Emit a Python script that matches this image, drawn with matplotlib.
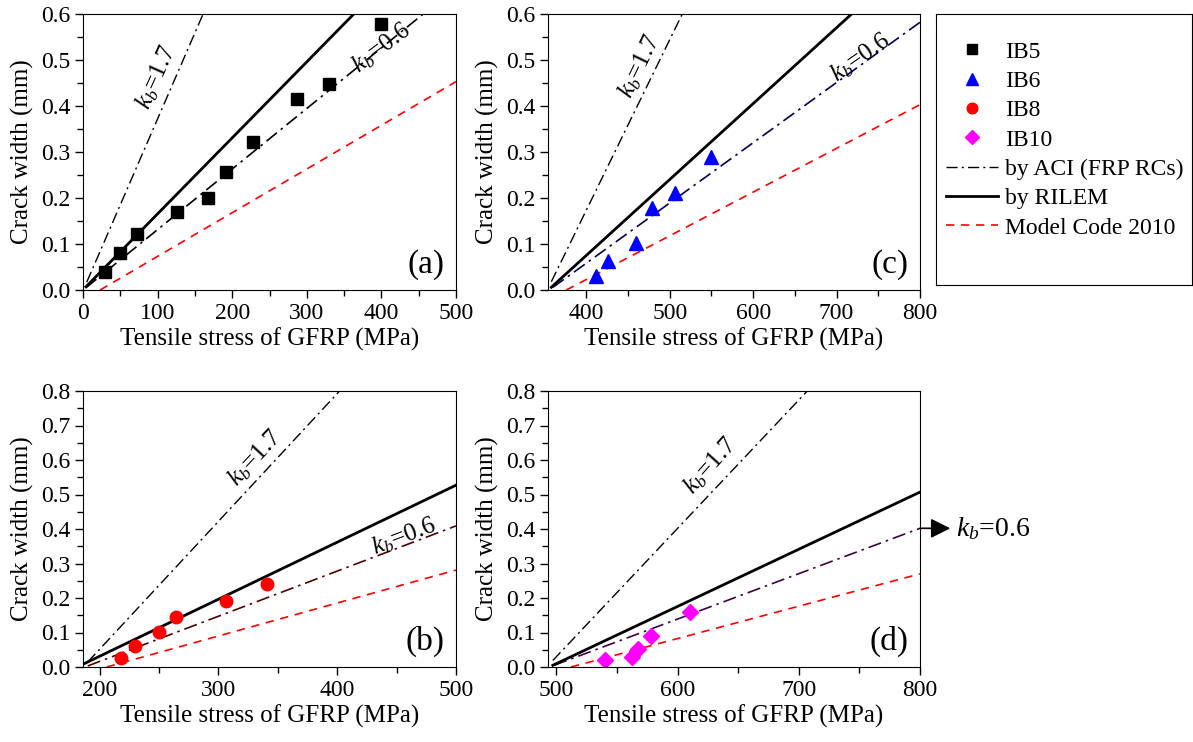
import matplotlib
matplotlib.use('Agg')
import matplotlib.pyplot as plt
from matplotlib.ticker import MultipleLocator, FormatStrFormatter

plt.rcParams['font.family'] = 'Liberation Serif'
plt.rcParams['mathtext.fontset'] = 'custom'
plt.rcParams['mathtext.rm'] = 'Liberation Serif'
plt.rcParams['mathtext.it'] = 'Liberation Serif:italic'

# measured crack widths
ib5_x = [30, 50, 72, 126, 167, 192, 228, 287, 330, 399]
ib5_y = [0.040, 0.081, 0.121, 0.169, 0.200, 0.257, 0.321, 0.416, 0.448, 0.578]
ib6_x = [411, 426, 459, 479, 506, 549]
ib6_y = [0.030, 0.063, 0.103, 0.178, 0.210, 0.290]
ib8_x = [218, 230, 250, 264, 306, 341]
ib8_y = [0.027, 0.060, 0.102, 0.145, 0.191, 0.242]
ib10_x = [540, 562, 567, 578, 610]
ib10_y = [0.019, 0.029, 0.053, 0.090, 0.160]

# prediction lines (start, end) for each panel
aci17_a = ([5, 161], [0.017, 0.6])
aci06_a = ([4, 456], [0.005, 0.6])
rilem_a = ([4, 363], [0.007, 0.6])
mc_a = ([23, 500], [0.0, 0.453])

aci17_c = ([358, 515], [0.018, 0.6])
aci06_c = ([360, 800], [0.006, 0.582])
rilem_c = ([358, 718], [0.006, 0.6])
mc_c = ([376, 800], [0.0, 0.403])

aci17_b = ([190, 402], [0.0145, 0.8])
aci06_b = ([190, 500], [0.003, 0.409])
rilem_b = ([186, 500], [0.008, 0.527])
mc_b = ([206, 500], [0.0, 0.281])

aci17_d = ([497, 707], [0.019, 0.8])
aci06_d = ([498, 800], [0.005, 0.402])
rilem_d = ([497, 800], [0.005, 0.507])
mc_d = ([512, 800], [0.0, 0.270])

aci_dash = (0, (8, 3, 1.5, 3))
W, H = 1193, 742
fig = plt.figure(figsize=(W / 100, H / 100), dpi=100)


def make_axes(left, top, right, bottom):
    return fig.add_axes([left / W, 1 - bottom / H, (right - left) / W, (bottom - top) / H])


def style_axes(ax, xlim, ylim, xmajor, letter):
    ax.set_xlim(*xlim)
    ax.set_ylim(*ylim)
    ax.xaxis.set_major_locator(MultipleLocator(xmajor))
    ax.xaxis.set_minor_locator(MultipleLocator(xmajor / 2))
    ax.yaxis.set_major_locator(MultipleLocator(0.1))
    ax.yaxis.set_minor_locator(MultipleLocator(0.05))
    ax.yaxis.set_major_formatter(FormatStrFormatter('%.1f'))
    ax.tick_params(which='major', direction='out', length=6, width=1, labelsize=17, pad=3)
    ax.tick_params(which='minor', direction='out', length=4, width=1)
    ax.set_xlabel('Tensile stress of GFRP (MPa)', fontsize=18, labelpad=3)
    ax.set_ylabel('Crack width (mm)', fontsize=18, labelpad=5)
    ax.text(0.97, 0.035, letter, transform=ax.transAxes, ha='right', va='bottom', fontsize=24)


def draw_lines(ax, aci17, aci06, rilem, mc, c06):
    l1, = ax.plot(*aci17, color='black', lw=1, linestyle=aci_dash, label='by ACI (FRP RCs)')
    ax.plot(*aci06, color=c06, lw=1.2, linestyle=aci_dash)
    l2, = ax.plot(*rilem, color='black', lw=2, label='by RILEM')
    l3, = ax.plot(*mc, color='red', lw=1.2, linestyle=(0, (5, 4)), label='Model Code 2010')
    return [l1, l2, l3]


ax_a = make_axes(83, 14, 456, 290)
ax_c = make_axes(548, 14, 920, 290)
ax_b = make_axes(83, 391, 456, 667)
ax_d = make_axes(548, 391, 920, 667)

style_axes(ax_a, (0, 500), (0, 0.6), 100, '(a)')
style_axes(ax_c, (354, 800), (0, 0.6), 100, '(c)')
style_axes(ax_b, (186, 500), (0, 0.8), 100, '(b)')
style_axes(ax_d, (493, 800), (0, 0.8), 100, '(d)')

line_handles = draw_lines(ax_a, aci17_a, aci06_a, rilem_a, mc_a, 'black')
draw_lines(ax_c, aci17_c, aci06_c, rilem_c, mc_c, '#000050')
draw_lines(ax_b, aci17_b, aci06_b, rilem_b, mc_b, '#500000')
draw_lines(ax_d, aci17_d, aci06_d, rilem_d, mc_d, '#400045')

h5, = ax_a.plot(ib5_x, ib5_y, 's', color='black', ms=9, label='IB5')
h6, = ax_c.plot(ib6_x, ib6_y, '^', color='blue', ms=10, label='IB6')
h8, = ax_b.plot(ib8_x, ib8_y, 'o', color='red', ms=9, label='IB8')
h10, = ax_d.plot(ib10_x, ib10_y, 'D', color='magenta', ms=8, label='IB10')

# k_b labels along the lines
kfs = 18
ax_a.text(99, 0.463, r'$k_b$=1.7', rotation=66, ha='center', va='center', fontsize=kfs)
ax_a.text(400, 0.525, r'$k_b$=0.6', rotation=37, ha='center', va='center', fontsize=kfs)
ax_c.text(464, 0.486, r'$k_b$=1.7', rotation=64, ha='center', va='center', fontsize=kfs)
ax_c.text(728, 0.504, r'$k_b$=0.6', rotation=35, ha='center', va='center', fontsize=kfs)
ax_b.text(331, 0.605, r'$k_b$=1.7', rotation=47, ha='center', va='center', fontsize=kfs)
ax_b.text(456, 0.377, r'$k_b$=0.6', rotation=21, ha='center', va='center', fontsize=kfs)
ax_d.text(627, 0.582, r'$k_b$=1.7', rotation=48, ha='center', va='center', fontsize=kfs)

# arrow from the end of the k_b=0.6 line in (d)
ax_d.annotate('', xy=(825, 0.402), xytext=(800, 0.402), annotation_clip=False,
              arrowprops=dict(arrowstyle='-|>', color='black', lw=1.2, mutation_scale=30,
                              shrinkA=0, shrinkB=0))
ax_d.text(830, 0.400, r'$k_b$=0.6', ha='left', va='center', fontsize=20, clip_on=False)

# legend panel
ax_leg = make_axes(936, 14, 1192, 285)
ax_leg.set_xticks([])
ax_leg.set_yticks([])
ax_leg.legend([h5, h6, h8, h10] + line_handles,
              ['IB5', 'IB6', 'IB8', 'IB10', 'by ACI (FRP RCs)', 'by RILEM', 'Model Code 2010'],
              loc='upper left', bbox_to_anchor=(10 / 256, 0.9), frameon=False, fontsize=17,
              handlelength=2.2, handletextpad=0.3, labelspacing=0.33, markerscale=0.85,
              borderpad=0, borderaxespad=0)

fig.savefig('out.png', dpi=100)
